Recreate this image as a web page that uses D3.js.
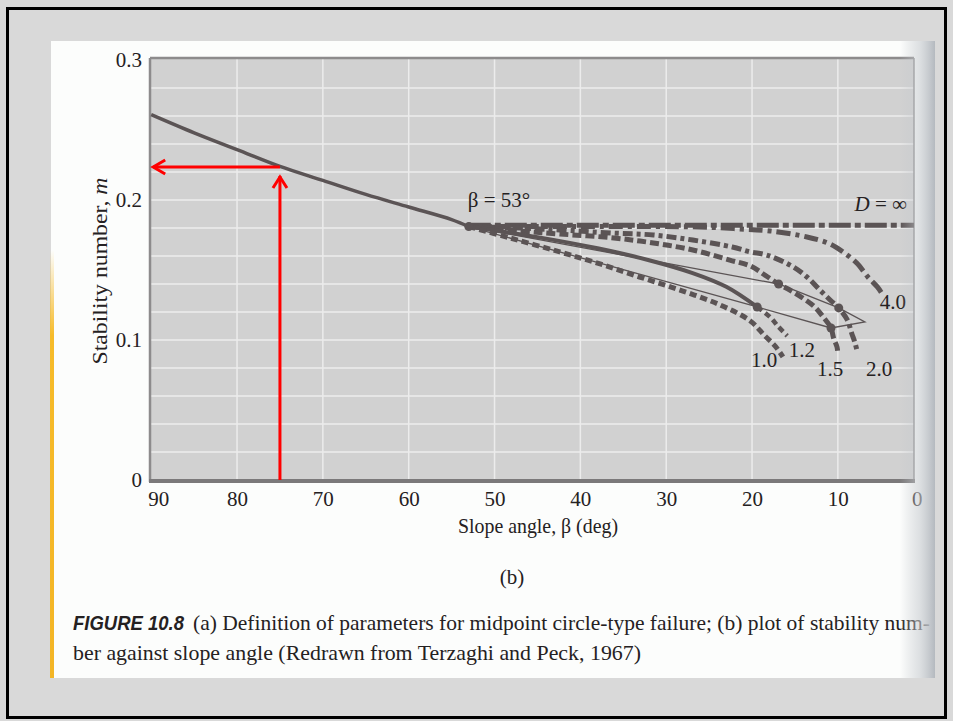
<!DOCTYPE html>
<html>
<head>
  <meta charset="utf-8">
  <style>
  body {
    margin: 0;
    background: #d9d9d9;
  }
  svg text {
    font-family: 'Liberation Serif', 'Times New Roman', serif;
    fill: #252122;
  }
  .axis text {
    font-size: 21px;
  }
  </style>
  <script src="https://d3js.org/d3.v7.min.js"></script>
</head>
<body>
  <script type="text/javascript">
  'use strict';

  // ticks
  var xTicks = [90, 80, 70, 60, 50, 40, 30, 20, 10, 0];
  var yTicks = [0, 0.1, 0.2, 0.3];

  // beta > 53 deg, single curve
  var betaMain = [90, 85, 80, 75, 70, 65, 60, 55, 53];
  var mMain = [0.261, 0.248, 0.236, 0.224, 0.214, 0.204, 0.195, 0.186, 0.181];

  // depth factor curves (beta < 53 deg)
  var betaInf = [53, 0];
  var mInf = [0.182, 0.182];

  var beta40 = [53, 37.7, 26.1, 21.4, 17.9, 13.6, 10.9, 9.4, 7.8, 6.5, 5.4, 4.9];
  var m40 = [0.181, 0.181, 0.1807, 0.1793, 0.1779, 0.1736, 0.1686, 0.1629, 0.155, 0.145, 0.1379, 0.1336];

  var beta20 = [53, 47.0, 42.4, 36.3, 31.5, 26.9, 22.3, 20.2, 18.3, 15.4, 13.6, 12.1, 10.9, 9.9, 8.9, 8.4, 8.0, 7.7];
  var m20 = [0.181, 0.180, 0.1786, 0.1764, 0.175, 0.1714, 0.1664, 0.1629, 0.1607, 0.1529, 0.145, 0.1357, 0.1286, 0.1229, 0.1143, 0.105, 0.0979, 0.0907];

  var beta15 = [53, 47.0, 42.4, 36.1, 31.5, 26.9, 22.6, 20.2, 18.5, 16.9, 15.6, 14.1, 12.7, 11.7, 10.8, 10.5, 10.1, 10.0];
  var m15 = [0.181, 0.1779, 0.1757, 0.1729, 0.1693, 0.1643, 0.1571, 0.1529, 0.1464, 0.140, 0.1357, 0.130, 0.1236, 0.1164, 0.1086, 0.1014, 0.095, 0.090];

  // solid arc from 53 deg to the D = 1.2 point, then dashed tail
  var betaArc = [53, 45, 38, 32, 27, 23, 19.4];
  var mArc = [0.181, 0.1735, 0.1655, 0.157, 0.148, 0.138, 0.1236];
  var beta12 = [19.4, 17.9, 17.0, 15.9];
  var m12 = [0.1236, 0.1164, 0.110, 0.1029];

  var beta10 = [53, 48.2, 42.4, 37.7, 33.1, 28.4, 23.7, 20.2, 18.5, 17.3, 16.4];
  var m10 = [0.181, 0.1729, 0.1629, 0.1543, 0.145, 0.1357, 0.125, 0.1136, 0.1029, 0.0957, 0.0879];

  // thin boundary polygon and the marked points
  var betaEdge = [53, 16.9, 9.9, 6.85, 10.8, 19.4, 53];
  var mEdge = [0.181, 0.140, 0.1229, 0.1129, 0.1086, 0.1236, 0.181];
  var betaDots = [53, 19.4, 16.9, 10.8, 9.9];
  var mDots = [0.181, 0.1236, 0.140, 0.1086, 0.1229];

  // curve labels
  var labelText = ['4.0', '2.0', '1.5', '1.2', '1.0'];
  var labelBeta = [3.6, 5.2, 10.9, 14.2, 18.6];
  var labelM = [0.122, 0.074, 0.074, 0.088, 0.081];

  // red reading arrows
  var readBeta = 75;
  var readM = 0.2236;

  var W = 953, H = 721;
  var svg = d3.select('body')
              .append('svg')
              .attr('width', W)
              .attr('height', H);

  var defs = svg.append('defs');

  var shade = defs.append('linearGradient').attr('id', 'shade')
                  .attr('x1', 0).attr('x2', 1).attr('y1', 0).attr('y2', 0);
  shade.append('stop').attr('offset', 0).attr('stop-color', '#c2c6cb').attr('stop-opacity', 0);
  shade.append('stop').attr('offset', 0.55).attr('stop-color', '#c9cdd1').attr('stop-opacity', 0.6);
  shade.append('stop').attr('offset', 1).attr('stop-color', '#b4b9bf').attr('stop-opacity', 1);

  var stripe = defs.append('linearGradient').attr('id', 'stripe')
                   .attr('x1', 0).attr('x2', 0).attr('y1', 0).attr('y2', 1);
  stripe.append('stop').attr('offset', 0).attr('stop-color', '#f6bb2a').attr('stop-opacity', 0);
  stripe.append('stop').attr('offset', 0.2).attr('stop-color', '#f6bb2a').attr('stop-opacity', 1);
  stripe.append('stop').attr('offset', 1).attr('stop-color', '#f3b526').attr('stop-opacity', 1);

  // frame and page
  svg.append('rect')
     .attr('x', 7.5).attr('y', 8.5).attr('width', 938).attr('height', 709)
     .attr('fill', '#d9d9d9').attr('stroke', '#000').attr('stroke-width', 3);

  svg.append('rect')
     .attr('x', 51).attr('y', 41).attr('width', 884).attr('height', 637)
     .attr('fill', '#fcfdfc');

  svg.append('rect')
     .attr('x', 50).attr('y', 250).attr('width', 4).attr('height', 428)
     .attr('fill', 'url(#stripe)');

  //set the scales

  var x = d3.scaleLinear().domain([90, 0]).range([151.2, 923.7]);
  var y = d3.scaleLinear().domain([0, 0.3]).range([480, 60]);

  var pLeft = 150, pRight = 914, pTop = 58, pBottom = 482;

  defs.append('clipPath').attr('id', 'plotclip')
      .append('rect')
      .attr('x', pLeft).attr('y', pTop)
      .attr('width', pRight - pLeft).attr('height', pBottom - pTop);

  svg.append('rect')
     .attr('x', pLeft).attr('y', pTop)
     .attr('width', pRight - pLeft).attr('height', pBottom - pTop)
     .attr('fill', '#d1d1d1');

  //grid

  var grid = svg.append('g').attr('class', 'grid');
  grid.selectAll('.hg')
      .data(d3.range(1, 15).map(function(i) { return i * 0.02; }))
      .enter().append('line')
      .attr('x1', pLeft).attr('x2', pRight)
      .attr('y1', function(d) { return y(d); })
      .attr('y2', function(d) { return y(d); })
      .attr('stroke', '#ececec').attr('stroke-width', 1.5);
  grid.selectAll('.vg')
      .data(xTicks.slice(1, 9))
      .enter().append('line')
      .attr('y1', pTop).attr('y2', pBottom)
      .attr('x1', function(d) { return x(d); })
      .attr('x2', function(d) { return x(d); })
      .attr('stroke', '#ececec').attr('stroke-width', 1.5);

  // plot border
  svg.append('line').attr('x1', pLeft).attr('x2', pRight).attr('y1', pTop).attr('y2', pTop)
     .attr('stroke', '#8d8b8c').attr('stroke-width', 2.5);
  svg.append('line').attr('x1', pLeft).attr('x2', pLeft).attr('y1', pTop).attr('y2', pBottom)
     .attr('stroke', '#8d8b8c').attr('stroke-width', 2.5);
  svg.append('line').attr('x1', pRight).attr('x2', pRight).attr('y1', pTop).attr('y2', pBottom)
     .attr('stroke', '#8d8b8c').attr('stroke-width', 1.5);
  svg.append('line').attr('x1', pLeft - 1).attr('x2', pRight + 1).attr('y1', pBottom - 1).attr('y2', pBottom - 1)
     .attr('stroke', '#7b797a').attr('stroke-width', 4);

  //draw axes

  var xAxis = d3.axisBottom(x).tickValues(xTicks).tickSize(0).tickPadding(9)
                .tickFormat(function(d) { return d; });
  var yAxis = d3.axisLeft(y).tickValues(yTicks).tickSize(0).tickPadding(8)
                .tickFormat(function(d) { return d === 0 ? '0' : d.toFixed(1); });

  var gx = svg.append('g')
              .attr('class', 'x axis')
              .attr('transform', 'translate(0,' + pBottom + ')')
              .call(xAxis);
  gx.select('.domain').remove();
  gx.selectAll('text').attr('fill', '#252122')
    .attr('dx', function(d) { return d === 90 ? 7 : (d === 0 ? -7 : 0); });

  var gy = svg.append('g')
              .attr('class', 'y axis')
              .attr('transform', 'translate(' + pLeft + ',0)')
              .call(yAxis);
  gy.select('.domain').remove();
  gy.selectAll('text').attr('fill', '#252122');

  //curves

  var ink = '#5b5455';
  var plot = svg.append('g').attr('clip-path', 'url(#plotclip)');

  function series(betas, ms) {
    return betas.map(function(b, i) { return [b, ms[i]]; });
  }

  var smooth = d3.line()
                 .x(function(d) { return x(d[0]); })
                 .y(function(d) { return y(d[1]); })
                 .curve(d3.curveCatmullRom.alpha(0.5));
  var straight = d3.line()
                   .x(function(d) { return x(d[0]); })
                   .y(function(d) { return y(d[1]); });

  function drawCurve(data, width, dash, gen) {
    plot.append('path')
        .datum(data)
        .attr('d', gen || smooth)
        .attr('fill', 'none')
        .attr('stroke', ink)
        .attr('stroke-width', width)
        .attr('stroke-dasharray', dash)
        .attr('stroke-linecap', 'butt');
  }

  drawCurve(series(betaEdge, mEdge), 1.3, null, straight);
  drawCurve(series(betaMain, mMain), 3.5, null);
  drawCurve(series(betaInf, mInf), 5, '22,4,6,4', straight);
  drawCurve(series(beta40, m40), 5, '14,5,4,5');
  drawCurve(series(beta20, m20), 5, '10,4,4,4');
  drawCurve(series(beta15, m15), 5, '9,4');
  drawCurve(series(betaArc, mArc), 4, null);
  drawCurve(series(beta12, m12), 4.5, '6,4');
  drawCurve(series(beta10, m10), 5, '7,4');

  plot.selectAll('circle')
      .data(series(betaDots, mDots))
      .enter().append('circle')
      .attr('cx', function(d) { return x(d[0]); })
      .attr('cy', function(d) { return y(d[1]); })
      .attr('r', 4.5)
      .attr('fill', ink);

  // labels in the plot
  svg.append('text')
     .attr('x', 499).attr('y', 207)
     .attr('text-anchor', 'middle')
     .style('font-size', '21px')
     .text('\u03b2 = 53\u00b0');

  var dlab = svg.append('text')
                .attr('x', 907).attr('y', 211)
                .attr('text-anchor', 'end')
                .style('font-size', '21px');
  dlab.append('tspan').style('font-style', 'italic').text('D');
  dlab.append('tspan').text(' = \u221e');

  svg.selectAll('.dlabel')
     .data(labelText)
     .enter().append('text')
     .attr('class', 'dlabel')
     .attr('x', function(d, i) { return x(labelBeta[i]); })
     .attr('y', function(d, i) { return y(labelM[i]); })
     .attr('text-anchor', 'middle')
     .style('font-size', '21px')
     .text(function(d) { return d; });

  // red reading arrows
  var red = svg.append('g')
               .attr('stroke', '#ff0000')
               .attr('stroke-width', 3)
               .attr('fill', 'none');
  var ax = x(readBeta), ay = y(readM);
  red.append('line').attr('x1', ax).attr('x2', ax).attr('y1', y(0)).attr('y2', ay + 9);
  red.append('polyline')
     .attr('points', (ax - 7) + ',' + (ay + 21) + ' ' + ax + ',' + (ay + 10) + ' ' + (ax + 7) + ',' + (ay + 21));
  red.append('line').attr('x1', ax).attr('x2', x(90) + 2).attr('y1', ay).attr('y2', ay);
  red.append('polyline')
     .attr('points', (x(90) + 14) + ',' + (ay - 7) + ' ' + (x(90) + 2) + ',' + ay + ' ' + (x(90) + 14) + ',' + (ay + 7));

  // axis titles
  var yt = svg.append('text')
              .attr('transform', 'translate(107,271) rotate(-90)')
              .attr('text-anchor', 'middle')
              .attr('textLength', 187)
              .attr('lengthAdjust', 'spacingAndGlyphs')
              .style('font-size', '21px');
  yt.append('tspan').text('Stability number, ');
  yt.append('tspan').style('font-style', 'italic').text('m');

  svg.append('text')
     .attr('x', 538).attr('y', 533)
     .attr('text-anchor', 'middle')
     .attr('textLength', 160)
     .attr('lengthAdjust', 'spacingAndGlyphs')
     .style('font-size', '21px')
     .text('Slope angle, \u03b2 (deg)');

  svg.append('text')
     .attr('x', 512).attr('y', 584)
     .attr('text-anchor', 'middle')
     .style('font-size', '21px')
     .text('(b)');

  // caption
  svg.append('text')
     .attr('x', 73).attr('y', 630)
     .attr('textLength', 111)
     .attr('lengthAdjust', 'spacingAndGlyphs')
     .style('font-family', "'Liberation Sans', 'DejaVu Sans', sans-serif")
     .style('font-weight', 'bold')
     .style('font-style', 'italic')
     .style('font-size', '21px')
     .text('FIGURE 10.8');

  svg.append('text')
     .attr('x', 193).attr('y', 630)
     .attr('textLength', 737)
     .attr('lengthAdjust', 'spacingAndGlyphs')
     .style('font-size', '22px')
     .text('(a) Definition of parameters for midpoint circle-type failure; (b) plot of stability num-');

  svg.append('text')
     .attr('x', 73).attr('y', 660)
     .attr('textLength', 568)
     .attr('lengthAdjust', 'spacingAndGlyphs')
     .style('font-size', '22px')
     .text('ber against slope angle (Redrawn from Terzaghi and Peck, 1967)');

  // page edge shading
  svg.append('rect')
     .attr('x', 900).attr('y', 41).attr('width', 35).attr('height', 637)
     .attr('fill', 'url(#shade)');
  </script>
</body>
</html>
